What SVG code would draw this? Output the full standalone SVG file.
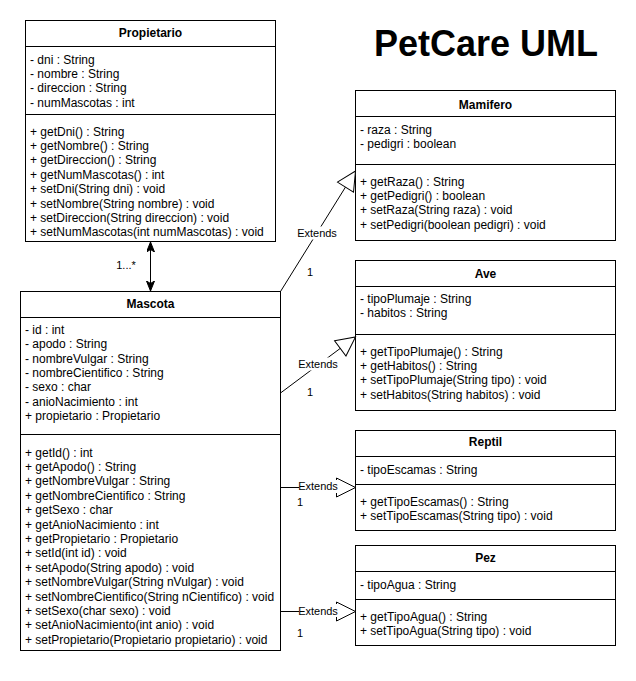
<svg xmlns="http://www.w3.org/2000/svg" width="636" height="681" viewBox="0 0 636 681">
<style>
text{font-family:"Liberation Sans",Arial,Helvetica,sans-serif;fill:#000}
.m{font-size:12px}
.t{font-size:12px;font-weight:bold;text-anchor:middle}
.box{fill:#fff;stroke:#000;stroke-width:1}
.sep{stroke:#000;stroke-width:1}
.lbl{font-size:11px}
.c{text-anchor:middle}
.edge{fill:none;stroke:#000;stroke-width:1}
.bg{fill:#fff}
</style>
<defs>
<marker id="cls" markerUnits="userSpaceOnUse" markerWidth="12" markerHeight="9" refX="10" refY="4" orient="auto-start-reverse" viewBox="0 0 12 9">
<path d="M0,0 L10,4 L0,8 L2.5,4 Z" fill="#000" stroke="#000" stroke-width="1"/>
</marker>
<marker id="ext" markerUnits="userSpaceOnUse" markerWidth="22" markerHeight="22" refX="19" refY="9.5" orient="auto" viewBox="-1 -1 22 22">
<path d="M0,0 L19,9.5 L0,19 Z" fill="#fff" stroke="#000" stroke-width="1"/>
</marker>
</defs>
<rect width="636" height="681" fill="#fff"/>

<text x="486" y="56" style="font-size:36px;font-weight:bold;text-anchor:middle">PetCare UML</text>

<g id="Propietario">
<rect class="box" x="25.5" y="20.5" width="250" height="221"/>
<line class="sep" x1="25.5" y1="46.5" x2="275.5" y2="46.5"/>
<line class="sep" x1="25.5" y1="114.5" x2="275.5" y2="114.5"/>
<text class="t" x="150.5" y="37">Propietario</text>
<text class="m" x="30" y="63.5"><tspan x="30">- dni : String</tspan><tspan x="30" dy="14.4">- nombre : String</tspan><tspan x="30" dy="14.4">- direccion : String</tspan><tspan x="30" dy="14.4">- numMascotas : int</tspan></text>
<text class="m" x="30" y="135.5"><tspan x="30">+ getDni() : String</tspan><tspan x="30" dy="14.4">+ getNombre() : String</tspan><tspan x="30" dy="14.4">+ getDireccion() : String</tspan><tspan x="30" dy="14.4">+ getNumMascotas() : int</tspan><tspan x="30" dy="14.4">+ setDni(String dni) : void</tspan><tspan x="30" dy="14.4">+ setNombre(String nombre) : void</tspan><tspan x="30" dy="14.4">+ setDireccion(String direccion) : void</tspan><tspan x="30" dy="14.4">+ setNumMascotas(int numMascotas) : void</tspan></text>
</g>

<g id="Mascota">
<rect class="box" x="20.5" y="291.5" width="260" height="359"/>
<line class="sep" x1="20.5" y1="317.5" x2="280.5" y2="317.5"/>
<line class="sep" x1="20.5" y1="434.5" x2="280.5" y2="434.5"/>
<text class="t" x="150.5" y="308">Mascota</text>
<text class="m" x="25" y="334"><tspan x="25">- id : int</tspan><tspan x="25" dy="14.3">- apodo : String</tspan><tspan x="25" dy="14.3">- nombreVulgar : String</tspan><tspan x="25" dy="14.3">- nombreCientifico : String</tspan><tspan x="25" dy="14.3">- sexo : char</tspan><tspan x="25" dy="14.3">- anioNacimiento : int</tspan><tspan x="25" dy="14.3">+ propietario : Propietario</tspan></text>
<text class="m" x="25" y="456.5"><tspan x="25">+ getId() : int</tspan><tspan x="25" dy="14.4">+ getApodo() : String</tspan><tspan x="25" dy="14.4">+ getNombreVulgar : String</tspan><tspan x="25" dy="14.4">+ getNombreCientifico : String</tspan><tspan x="25" dy="14.4">+ getSexo : char</tspan><tspan x="25" dy="14.4">+ getAnioNacimiento : int</tspan><tspan x="25" dy="14.4">+ getPropietario : Propietario</tspan><tspan x="25" dy="14.4">+ setId(int id) : void</tspan><tspan x="25" dy="14.4">+ setApodo(String apodo) : void</tspan><tspan x="25" dy="14.4">+ setNombreVulgar(String nVulgar) : void</tspan><tspan x="25" dy="14.4">+ setNombreCientifico(String nCientifico) : void</tspan><tspan x="25" dy="14.4">+ setSexo(char sexo) : void</tspan><tspan x="25" dy="14.4">+ setAnioNacimiento(int anio) : void</tspan><tspan x="25" dy="14.4">+ setPropietario(Propietario propietario) : void</tspan></text>
</g>

<g id="Mamifero">
<rect class="box" x="355.5" y="90.5" width="260" height="150"/>
<line class="sep" x1="355.5" y1="116.5" x2="615.5" y2="116.5"/>
<line class="sep" x1="355.5" y1="164.5" x2="615.5" y2="164.5"/>
<text class="t" x="485.5" y="108.5">Mamifero</text>
<text class="m" x="360" y="134"><tspan x="360">- raza : String</tspan><tspan x="360" dy="14.4">- pedigri : boolean</tspan></text>
<text class="m" x="360" y="185.5"><tspan x="360">+ getRaza() : String</tspan><tspan x="360" dy="14.4">+ getPedigri() : boolean</tspan><tspan x="360" dy="14.4">+ setRaza(String raza) : void</tspan><tspan x="360" dy="14.4">+ setPedigri(boolean pedigri) : void</tspan></text>
</g>

<g id="Ave">
<rect class="box" x="355.5" y="260.5" width="260" height="150"/>
<line class="sep" x1="355.5" y1="286.5" x2="615.5" y2="286.5"/>
<line class="sep" x1="355.5" y1="334.5" x2="615.5" y2="334.5"/>
<text class="t" x="485.5" y="278">Ave</text>
<text class="m" x="360" y="302.5"><tspan x="360">- tipoPlumaje : String</tspan><tspan x="360" dy="14.4">- habitos : String</tspan></text>
<text class="m" x="360" y="355.5"><tspan x="360">+ getTipoPlumaje() : String</tspan><tspan x="360" dy="14.4">+ getHabitos() : String</tspan><tspan x="360" dy="14.4">+ setTipoPlumaje(String tipo) : void</tspan><tspan x="360" dy="14.4">+ setHabitos(String habitos) : void</tspan></text>
</g>

<g id="Reptil">
<rect class="box" x="355.5" y="430.5" width="260" height="100"/>
<line class="sep" x1="355.5" y1="456.5" x2="615.5" y2="456.5"/>
<line class="sep" x1="355.5" y1="484.5" x2="615.5" y2="484.5"/>
<text class="t" x="485.5" y="446">Reptil</text>
<text class="m" x="360" y="474">- tipoEscamas : String</text>
<text class="m" x="360" y="505.5"><tspan x="360">+ getTipoEscamas() : String</tspan><tspan x="360" dy="14.4">+ setTipoEscamas(String tipo) : void</tspan></text>
</g>

<g id="Pez">
<rect class="box" x="355.5" y="545.5" width="260" height="100"/>
<line class="sep" x1="355.5" y1="571.5" x2="615.5" y2="571.5"/>
<line class="sep" x1="355.5" y1="599.5" x2="615.5" y2="599.5"/>
<text class="t" x="485.5" y="562">Pez</text>
<text class="m" x="360" y="589">- tipoAgua : String</text>
<text class="m" x="360" y="620.5"><tspan x="360">+ getTipoAgua() : String</tspan><tspan x="360" dy="14.4">+ setTipoAgua(String tipo) : void</tspan></text>
</g>

<g id="connectors">
<line class="edge" x1="150.5" y1="242" x2="150.5" y2="291" marker-start="url(#cls)" marker-end="url(#cls)"/>
<text class="lbl c" x="126" y="269">1...*</text>

<line class="edge" x1="280.5" y1="291.5" x2="355.5" y2="171" marker-end="url(#ext)"/>
<rect class="bg" x="297" y="226.5" width="40" height="13"/>
<text class="lbl c" x="317" y="237">Extends</text>
<text class="lbl c" x="310" y="276">1</text>

<line class="edge" x1="280.5" y1="393" x2="355.5" y2="337" marker-end="url(#ext)"/>
<rect class="bg" x="298" y="357.5" width="40" height="13"/>
<text class="lbl c" x="318" y="368">Extends</text>
<text class="lbl c" x="310" y="396">1</text>

<line class="edge" x1="280.5" y1="487.5" x2="355.5" y2="487.5" marker-end="url(#ext)"/>
<rect class="bg" x="299" y="480" width="38" height="13"/>
<text class="lbl c" x="318" y="490">Extends</text>
<text class="lbl c" x="300" y="506">1</text>

<line class="edge" x1="280.5" y1="611.5" x2="355.5" y2="611.5" marker-end="url(#ext)"/>
<rect class="bg" x="299" y="604" width="38" height="13"/>
<text class="lbl c" x="318" y="615">Extends</text>
<text class="lbl c" x="300" y="637">1</text>
</g>
</svg>
